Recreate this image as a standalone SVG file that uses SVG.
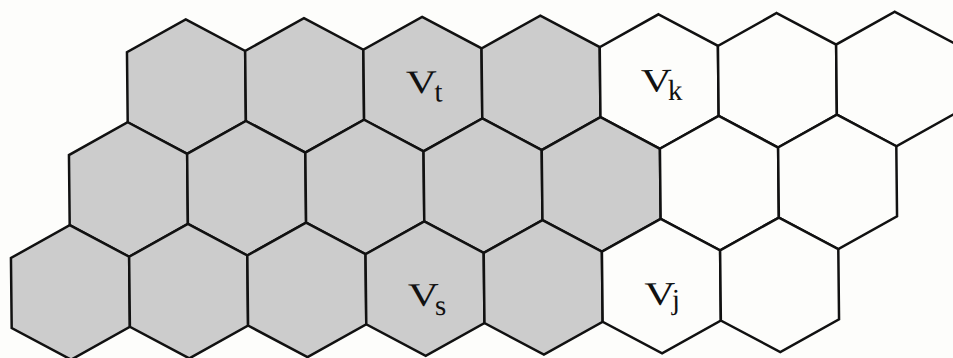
<svg xmlns="http://www.w3.org/2000/svg" xmlns:xlink="http://www.w3.org/1999/xlink" width="953" height="358" viewBox="0 0 953 358">
<style>
.hex{stroke:#111;stroke-width:2.5;stroke-linejoin:miter}
.g{fill:#cccccc}
.w{fill:#fdfdfb}
.V{font-family:"Liberation Serif","DejaVu Serif",serif;font-size:33px;fill:#111}
.sub{font-family:"Liberation Serif","DejaVu Serif",serif;font-size:29px;fill:#111}
</style>
<defs>
<polygon id="hx" points="0,0 59.1,32.2 59.1,102.3 0,134.5 -59.1,102.3 -59.1,32.2"/>
</defs>
<rect width="953" height="358" fill="#fdfdfb"/>
<g transform="rotate(-0.61)">
<g id="h-0-0"><use xlink:href="#hx" class="hex g" x="185.5" y="21.3"/></g>
<g id="h-0-1"><use xlink:href="#hx" class="hex g" x="303.7" y="21.3"/></g>
<g id="h-0-2"><use xlink:href="#hx" class="hex g" x="421.9" y="21.3"/><text class="V" x="405" y="97.6" textLength="31" lengthAdjust="spacingAndGlyphs">V</text><text class="sub" x="433.4" y="106.1">t</text></g>
<g id="h-0-3"><use xlink:href="#hx" class="hex g" x="540.1" y="21.3"/></g>
<g id="h-0-4"><use xlink:href="#hx" class="hex w" x="658.3" y="21.3"/><text class="V" x="640" y="98.5" textLength="31" lengthAdjust="spacingAndGlyphs">V</text><text class="sub" x="666.9" y="107.1">k</text></g>
<g id="h-0-5"><use xlink:href="#hx" class="hex w" x="776.5" y="21.3"/></g>
<g id="h-0-6"><use xlink:href="#hx" class="hex w" x="894.7" y="21.3"/></g>
<g id="h-1-0"><use xlink:href="#hx" class="hex g" x="126.4" y="123.6"/></g>
<g id="h-1-1"><use xlink:href="#hx" class="hex g" x="244.6" y="123.6"/></g>
<g id="h-1-2"><use xlink:href="#hx" class="hex g" x="362.8" y="123.6"/></g>
<g id="h-1-3"><use xlink:href="#hx" class="hex g" x="481.0" y="123.6"/></g>
<g id="h-1-4"><use xlink:href="#hx" class="hex g" x="599.2" y="123.6"/></g>
<g id="h-1-5"><use xlink:href="#hx" class="hex w" x="717.4" y="123.6"/></g>
<g id="h-1-6"><use xlink:href="#hx" class="hex w" x="835.6" y="123.6"/></g>
<g id="h-2-0"><use xlink:href="#hx" class="hex g" x="67.3" y="225.9"/></g>
<g id="h-2-1"><use xlink:href="#hx" class="hex g" x="185.5" y="225.9"/></g>
<g id="h-2-2"><use xlink:href="#hx" class="hex g" x="303.7" y="225.9"/></g>
<g id="h-2-3"><use xlink:href="#hx" class="hex g" x="421.9" y="225.9"/><text class="V" x="404.7" y="310.3" textLength="31" lengthAdjust="spacingAndGlyphs">V</text><text class="sub" x="431.6" y="319.6">s</text></g>
<g id="h-2-4"><use xlink:href="#hx" class="hex g" x="540.1" y="225.9"/></g>
<g id="h-2-5"><use xlink:href="#hx" class="hex w" x="658.3" y="225.9"/><text class="V" x="641.3" y="311.9" textLength="31" lengthAdjust="spacingAndGlyphs">V</text><text class="sub" x="668.7" y="316.2">j</text></g>
<g id="h-2-6"><use xlink:href="#hx" class="hex w" x="776.5" y="225.9"/></g>
<g id="connectors"/>
</g>
</svg>
